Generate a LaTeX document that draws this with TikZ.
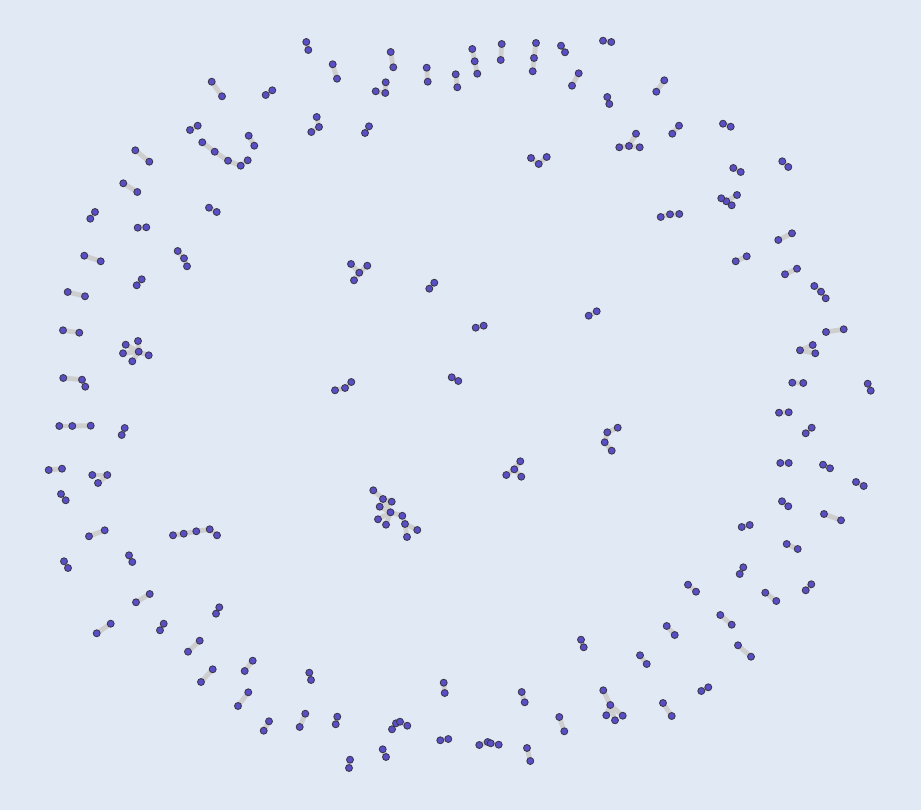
\documentclass[tikz,border=0pt]{standalone}
\definecolor{bgc}{RGB}{225,233,244}
\definecolor{nodefill}{RGB}{90,78,196}
\definecolor{nodeline}{RGB}{55,52,70}
\definecolor{edgec}{RGB}{206,206,206}
\pgfdeclarelayer{bglayer}
\pgfsetlayers{bglayer,main}
\tikzset{
  vtx/.style={circle,fill=nodefill,draw=nodeline,line width=0.8pt,minimum size=7pt,inner sep=0pt},
  lnk/.style={draw=edgec,line width=4.8pt}
}
\begin{document}
\begin{tikzpicture}[x=1pt,y=-1pt]
\begin{pgfonlayer}{bglayer}
\fill[bgc] (0,0) rectangle (921,810);
\end{pgfonlayer}
\useasboundingbox (0,0) rectangle (921,810);
\foreach \n/\x/\y in {
A1/306.3/42,A2/308.3/50,B1/332.7/64.3,B2/337/78.7,C1/390.7/52,C2/393.3/67.3,
D1/385.7/82.3,D2/375.7/91.3,D3/385.3/93,E1/426.7/67.7,E2/427.7/81.7,F1/455.7/74.3,F2/457.3/87.3,
G1/211.7/81.7,G2/222/96.3,H1/265.7/95,H2/272.3/90.3,I1/316.7/117,I2/319/127,I3/311.3/132,
J1/369/126.3,J2/365/133,K1/190/130,K2/197.7/125.7,
L1/202.3/142.3,L2/214.7/151.7,L3/228/160.7,L4/240.7/165.7,L5/247.7/160.3,
M1/248.7/135.7,M2/254.3/145.7,N1/135.3/150.3,N2/149.3/161.7,O1/123.3/183.3,O2/137.3/192,
P1/95/212,P2/90.3/218.7,Q1/209/207.7,Q2/216.7/212,R1/137.7/227.7,R2/146.3/227.3,
S1/84.3/255.7,S2/100.7/261.3,T1/177.7/251,T2/184/258.3,T3/187/266.3,U1/141.7/279.3,U2/136.7/285.3,
V1/67.7/292,V2/85/296.3,W1/63/330.3,W2/79.3/332.7,
X0/138.7/351.7,X1/138/341,X2/125.7/344.7,X3/123/353.3,X4/148.7/355.3,X5/132.3/361.3,
Y0/359.3/272.7,Y1/351/264,Y2/367.3/265.7,Y3/354/280.3,Z1/434.3/282.7,Z2/429.3/288.7,
AA1/63.3/378,AA2/82/379.7,AA3/85.3/386.7,AB1/335/390.3,AB2/345/388,AB3/351.3/382,AC1/451.7/377.3,AC2/458.3/381,
BA1/472.3/49,BA2/474.7/61.3,BA3/477.3/73.7,BB1/501.7/44,BB2/500.7/60,BC1/536/43,BC2/534/58,BC3/532.7/71.3,
BD1/561/45.7,BD2/565/52.3,BE1/603/40.7,BE2/611.3/42,BF1/578.7/73.3,BF2/572/85.7,BG1/664.3/80.3,BG2/656.3/91.7,
BH1/607.3/97,BH2/609.3/104,BI0/629/146,BI1/636/133.7,BI2/619.3/147.3,BI3/639.7/147.3,
BJ1/679/125.7,BJ2/672.3/133.7,BK1/723/123.7,BK2/730.7/126.7,BL1/531/158,BL2/538.7/164,BL3/546.7/157,
BM1/733.3/168,BM2/740.7/172,BN1/782.3/161.3,BN2/788.3/167,
BO0/726.3/201.3,BO1/721.3/198.3,BO2/731.7/205.3,BO3/737/195,
BP1/660.7/217,BP2/670/214.3,BP3/679.3/214,BQ1/792/233.3,BQ2/778.3/240,BR1/746.7/256.3,BR2/735.7/261.3,
BS1/797/268.7,BS2/785/274.3,BT1/814.3/286,BT2/821/291.7,BT3/825.7/298.3,BU1/843.7/329.3,BU2/826/332,
BV0/800/350.3,BV1/812.7/345,BV2/815.3/353.3,BW1/792.3/382.7,BW2/803.3/383,BX1/867.7/383.7,BX2/870.7/390.7,
BY1/588.7/315.7,BY2/596.7/311.3,BZ1/475.7/327.7,BZ2/483.7/325.7,
CA1/59.3/426,CA2/72.3/426,CA3/90.7/425.7,CB1/124.7/428,CB2/121.7/435,CC1/48.7/470,CC2/62/468.7,
CD1/92.3/475,CD2/107.3/475,CD3/98/483,CE1/61/494,CE2/65.7/500.3,CF1/89/536.3,CF2/104.7/530.3,
CG1/173/535.3,CG2/183.7/533.7,CG3/196.3/531.3,CG4/209.7/529.3,CG5/217/535.3,
CH1/64/561.3,CH2/68/568,CI1/129/555.3,CI2/132.3/562,CJ1/149.7/594,CJ2/136/602.3,CK1/219.3/607.3,CK2/216/613.7,
CL1/110.7/623.7,CL2/96.7/633.3,CM1/163.7/623.7,CM2/160/630.3,CN1/199.7/640.7,CN2/188/651.7,
CO1/252.7/660.7,CO2/244.7/671,CP1/212.7/669.3,CP2/201/682,CQ1/248.3/692.3,CQ2/238/706,
CR1/309.3/672.7,CR2/311/680,CS1/269/721.3,CS2/263.7/730.7,CT1/305.3/713.7,CT2/299.7/727,CU1/337.3/716.7,CU2/335.7/724.3,
CV1/392/729.3,CV2/396/723.3,CV3/400/721.7,CV4/407.3/725.7,CW1/443.7/682.7,CW2/444.7/693,CX1/440.3/740.3,CX2/448.3/739,
CY1/382.7/749.3,CY2/386/757,CZ1/350/759.7,CZ2/349/768,
Da/373.3/490.3,Db/383/499,Dc/391.7/501.7,Dd/379.7/506.7,De/390.5/512.3,Df/378/519.3,Dg/386/524.7,Dh/402.3/515.8,Di/405/524,Dj/417.3/530,Dk/407/537,
EA1/779/412.7,EA2/788.7/412.3,EB1/811.7/427.7,EB2/805.7/433.3,EC1/780.3/463,EC2/788.7/463,ED1/823/464.7,ED2/830/468.3,
EE1/856/482,EE2/863.7/486,EF1/782/501.3,EF2/788.3/506.3,EG1/824/514,EG2/841/520.3,EH1/741.7/527,EH2/749.7/525,
EI1/786.7/544,EI2/797.7/549,EJ1/743.3/567.3,EJ2/739.7/574,EK1/688/584.7,EK2/696/591.7,EL1/765.3/592.7,EL2/776.3/601,
EM1/811.3/584.3,EM2/805.7/590.3,EN1/720.3/615,EN2/731.7/624.7,EO1/666.7/626,EO2/674.7/635,EP1/738/645.3,EP2/751/656.7,
EQ1/581/639.7,EQ2/583.7/647.3,ER1/640/655.3,ER2/646.7/664,
ES0/514.3/469.3,ES1/520.3/461.3,ES2/506.3/475,ES3/521.3/476.7,
ET1/617.7/427.7,ET2/607.3/432.3,ET3/604.7/442.3,ET4/611.7/450.7,EU1/701.3/691,EU2/708.3/687.3,EV1/663/703,EV2/671.7/716,
EW1/521.7/692,EW2/524.7/702.3,EX1/559.3/717,EX2/564.3/731.3,
EY0/610.3/705,EY1/603.3/690.3,EY2/606.3/715.3,EY3/615/720.3,EY4/622.7/715.7,
EZ1/479.3/745,EZ2/487.7/742,EZ3/490.7/743.3,EZ4/498.7/744.7,FA1/527/748,FA2/530.3/761}
  \node[vtx] (\n) at (\x,\y) {};
\begin{pgfonlayer}{bglayer}
\foreach \a/\b in {
A1/A2,B1/B2,C1/C2,D1/D3,D2/D3,E1/E2,F1/F2,G1/G2,H1/H2,I1/I2,I2/I3,J1/J2,K1/K2,
L1/L2,L2/L3,L3/L4,L4/L5,M1/M2,N1/N2,O1/O2,P1/P2,Q1/Q2,R1/R2,S1/S2,T1/T2,T2/T3,U1/U2,V1/V2,W1/W2,
X0/X1,X0/X2,X0/X3,X0/X4,X0/X5,Y0/Y1,Y0/Y2,Y0/Y3,Z1/Z2,AA1/AA2,AA2/AA3,AB1/AB2,AB2/AB3,AC1/AC2,
BA1/BA2,BA2/BA3,BB1/BB2,BC1/BC2,BC2/BC3,BD1/BD2,BE1/BE2,BF1/BF2,BG1/BG2,BH1/BH2,
BI0/BI1,BI0/BI2,BI0/BI3,BJ1/BJ2,BK1/BK2,BL1/BL2,BL2/BL3,BM1/BM2,BN1/BN2,BO0/BO1,BO0/BO2,BO0/BO3,
BP1/BP2,BP2/BP3,BQ1/BQ2,BR1/BR2,BS1/BS2,BT1/BT2,BT2/BT3,BU1/BU2,BV0/BV1,BV0/BV2,BW1/BW2,BX1/BX2,BY1/BY2,BZ1/BZ2,
CA1/CA2,CA2/CA3,CB1/CB2,CC1/CC2,CD1/CD2,CD2/CD3,CE1/CE2,CF1/CF2,CG1/CG2,CG2/CG3,CG3/CG4,CG4/CG5,
CH1/CH2,CI1/CI2,CJ1/CJ2,CK1/CK2,CL1/CL2,CM1/CM2,CN1/CN2,CO1/CO2,CP1/CP2,CQ1/CQ2,CR1/CR2,CS1/CS2,CT1/CT2,CU1/CU2,
CV1/CV2,CV2/CV3,CV3/CV4,CW1/CW2,CX1/CX2,CY1/CY2,CZ1/CZ2,
Da/Db,Db/Dc,Db/De,Dd/De,Df/De,Dg/De,De/Dh,Dh/Di,Di/Dj,Di/Dk,
EA1/EA2,EB1/EB2,EC1/EC2,ED1/ED2,EE1/EE2,EF1/EF2,EG1/EG2,EH1/EH2,EI1/EI2,EJ1/EJ2,EK1/EK2,EL1/EL2,EM1/EM2,
EN1/EN2,EO1/EO2,EP1/EP2,EQ1/EQ2,ER1/ER2,ES0/ES1,ES0/ES2,ES0/ES3,ET1/ET2,ET2/ET3,ET3/ET4,EU1/EU2,EV1/EV2,
EW1/EW2,EX1/EX2,EY0/EY1,EY0/EY2,EY0/EY3,EY0/EY4,EZ1/EZ2,EZ2/EZ3,EZ3/EZ4,FA1/FA2}
  \draw[lnk] (\a.center) -- (\b.center);
\end{pgfonlayer}
\end{tikzpicture}
\end{document}
